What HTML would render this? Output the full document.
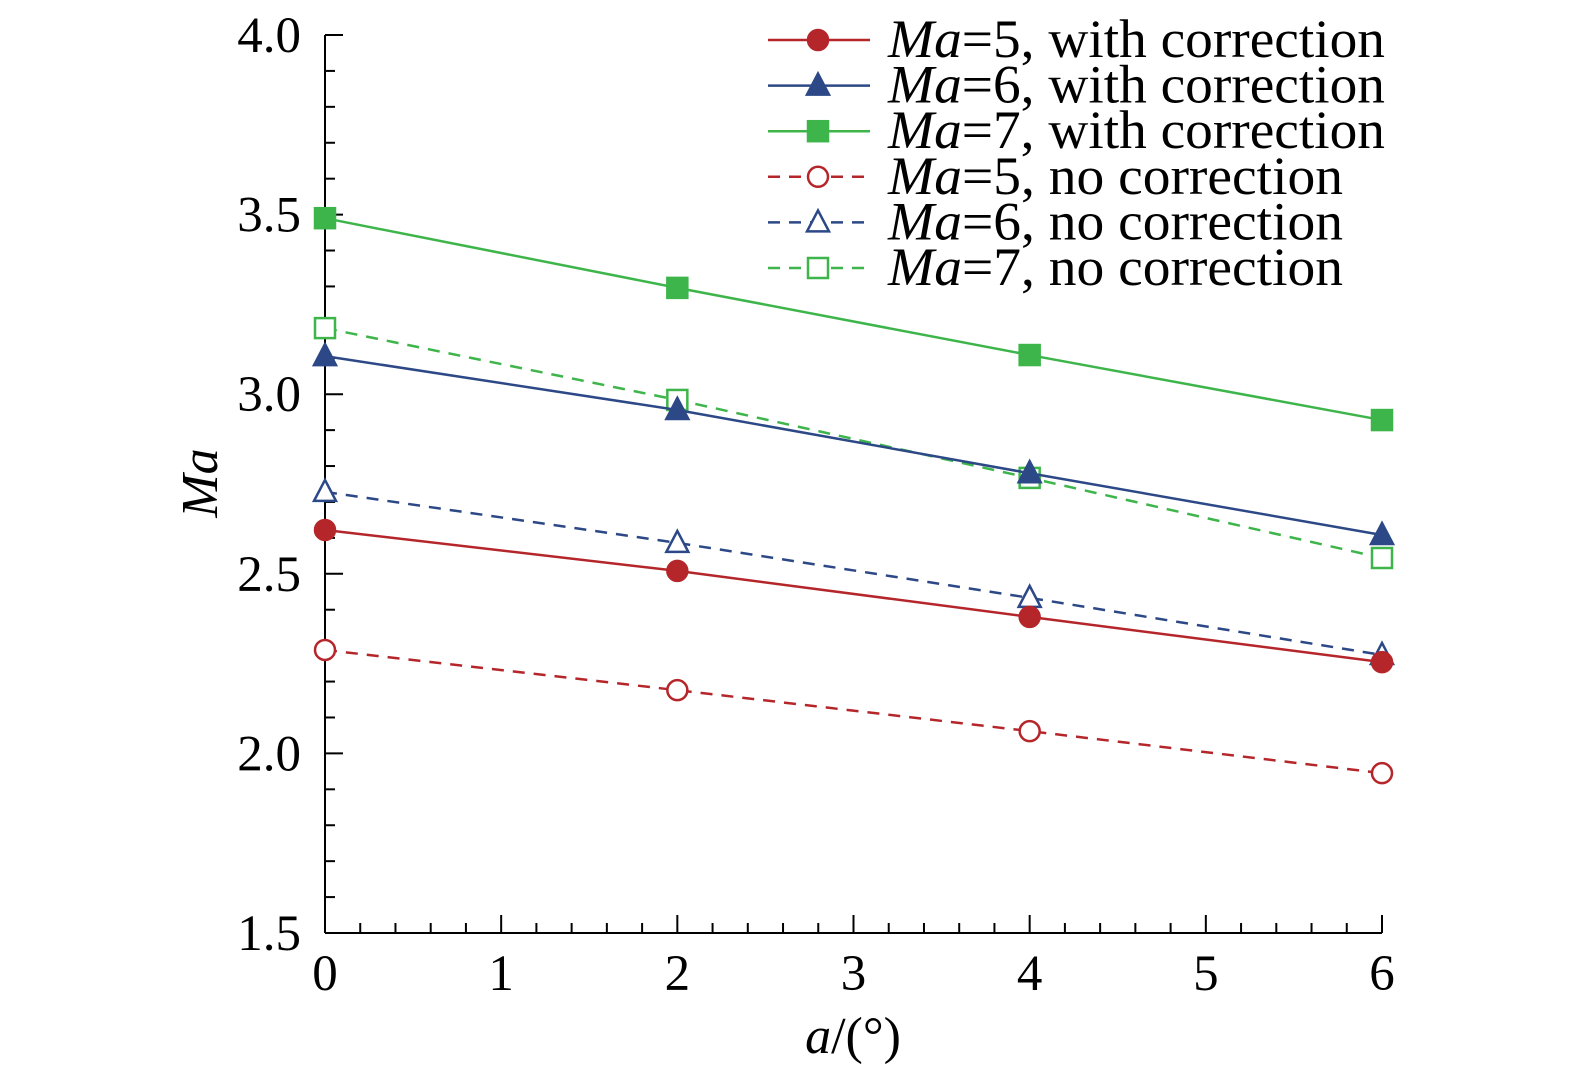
<!DOCTYPE html>
<html><head><meta charset="utf-8">
<style>
html,body{margin:0;padding:0;background:#fff;}
svg{display:block;font-family:"Liberation Serif",serif;}
</style></head>
<body>
<svg id="chart" width="1575" height="1077" viewBox="0 0 1575 1077">
<g id="axes"></g>
<g id="series"></g>
<g id="legend"></g>
</svg>
<script>
const categories=[0,2,4,6];
const ma5With=[2.622,2.508,2.380,2.254];
const ma6With=[3.106,2.956,2.780,2.608];
const ma7With=[3.490,3.296,3.109,2.928];
const ma5No=[2.288,2.176,2.062,1.945];
const ma6No=[2.728,2.586,2.433,2.274];
const ma7No=[3.184,2.984,2.767,2.544];
const xTicks=[0,1,2,3,4,5,6];
const yTicks=["1.5","2.0","2.5","3.0","3.5","4.0"];

const NS="http://www.w3.org/2000/svg";
const X0=325,X1=1382,Y0=933,Y1=35;
function sx(v){return X0+(v-0)/6*(X1-X0);}
function sy(v){return Y0-(v-1.5)/2.5*(Y0-Y1);}
function mk(tag,attrs,parent){const e=document.createElementNS(NS,tag);for(const k in attrs)e.setAttribute(k,attrs[k]);parent.appendChild(e);return e;}
const axes=document.getElementById('axes');
const ser=document.getElementById('series');
const leg=document.getElementById('legend');

let l=mk('line',{x1:X0,y1:Y1,x2:X0,y2:Y0,stroke:'#000','stroke-width':2},axes);


l=mk('line',{x1:X0,y1:Y0,x2:X1,y2:Y0,stroke:'#000','stroke-width':2},axes);



for(let i=0;i<=25;i++){
  const v=1.5+i*0.1, y=sy(v), major=i%5===0;
  l=mk('line',{x1:X0,y1:y,x2:X0+(major?18:10),y2:y,stroke:'#000','stroke-width':2},axes);
  
  
}
yTicks.forEach(t=>{
  const e=mk('text',{x:X0-24,y:sy(parseFloat(t))+17,'text-anchor':'end','font-size':51},axes);
  e.textContent=t;
  
  
});
for(let i=0;i<=30;i++){
  const v=i*0.2, x=sx(v), major=i%5===0;
  l=mk('line',{x1:x,y1:Y0,x2:x,y2:Y0-(major?18:10),stroke:'#000','stroke-width':2},axes);
  
  
}
xTicks.forEach(t=>{
  const e=mk('text',{x:sx(t),y:990,'text-anchor':'middle','font-size':51},axes);
  e.textContent=t;
  
  
});
let e=mk('text',{x:853,y:1053,'text-anchor':'middle','font-size':52},axes);
e.innerHTML='<tspan font-style="italic">a</tspan>/(°)';


e=mk('text',{x:0,y:0,'text-anchor':'middle','font-size':52,'font-style':'italic',transform:'translate(217,483) rotate(-90)'},axes);
e.textContent='Ma';



const RED='#b5262b',BLUE='#2c4886',GREEN='#3db54a';
function marker(shape,filled,color,x,y,parent){
  const fill=filled?color:'#fff';
  let m;
  if(shape==='circle') m=mk('circle',{cx:x,cy:y,r:10,fill,stroke:color,'stroke-width':2.5},parent);
  else if(shape==='tri') m=mk('polygon',{points:`${x},${y-12} ${x+11},${y+9} ${x-11},${y+9}`,fill,stroke:color,'stroke-width':2.5},parent);
  else m=mk('rect',{x:x-10,y:y-10,width:20,height:20,fill,stroke:color,'stroke-width':2.5},parent);
  return m;
}
const seriesDefs=[
 {vals:ma7No,color:GREEN,shape:'sq',filled:false,dash:true,name:'ma7-no-correction'},
 {vals:ma6No,color:BLUE,shape:'tri',filled:false,dash:true,name:'ma6-no-correction'},
 {vals:ma5No,color:RED,shape:'circle',filled:false,dash:true,name:'ma5-no-correction'},
 {vals:ma7With,color:GREEN,shape:'sq',filled:true,dash:false,name:'ma7-with-correction'},
 {vals:ma6With,color:BLUE,shape:'tri',filled:true,dash:false,name:'ma6-with-correction'},
 {vals:ma5With,color:RED,shape:'circle',filled:true,dash:false,name:'ma5-with-correction'}
];
seriesDefs.forEach(s=>{
  const g=mk('g',{},ser);
  
  
  const pts=categories.map((c,i)=>sx(c)+','+sy(s.vals[i])).join(' ');
  const pl=mk('polyline',{points:pts,fill:'none',stroke:s.color,'stroke-width':2.5,'stroke-dasharray':s.dash?'12 9':'none'},g);
  
  
  categories.forEach((c,i)=>{
    const m=marker(s.shape,s.filled,s.color,sx(c),sy(s.vals[i]),g);
    
    
  });
});

const legendItems=[
 {n:'5',t:'with correction',color:RED,shape:'circle',filled:true,dash:false},
 {n:'6',t:'with correction',color:BLUE,shape:'tri',filled:true,dash:false},
 {n:'7',t:'with correction',color:GREEN,shape:'sq',filled:true,dash:false},
 {n:'5',t:'no correction',color:RED,shape:'circle',filled:false,dash:true},
 {n:'6',t:'no correction',color:BLUE,shape:'tri',filled:false,dash:true},
 {n:'7',t:'no correction',color:GREEN,shape:'sq',filled:false,dash:true}
];
legendItems.forEach((it,i)=>{
  const y=40+i*45.6;
  const g=mk('g',{},leg);
  
  
  mk('line',{x1:768,y1:y,x2:870,y2:y,stroke:it.color,'stroke-width':2.5,'stroke-dasharray':it.dash?'12 9':'none'},g);
  marker(it.shape,it.filled,it.color,818,y,g);
  const t=mk('text',{x:888,y:y+17,'font-size':54,textLength:it.dash?455:497,lengthAdjust:'spacingAndGlyphs'},g);
  t.innerHTML='<tspan font-style="italic">Ma</tspan>='+it.n+', '+it.t;
});
</script>
</body></html>
